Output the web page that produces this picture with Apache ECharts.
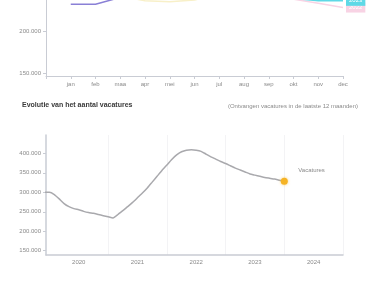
<!DOCTYPE html>
<html>
<head>
<meta charset="utf-8">
<script src="https://cdn.jsdelivr.net/npm/echarts@6/dist/echarts.min.js"></script>
<style>
  html, body { margin: 0; padding: 0; background: #fff; }
  #chart { width: 375px; height: 298px; }
</style>
</head>
<body>
<div id="chart"></div>
<script>
var monthLabels = ['jan', 'feb', 'maa', 'apr', 'mei', 'jun', 'jul', 'aug', 'sep', 'okt', 'nov', 'dec'];

// top chart: only the bottom part of it is visible
var purpleYear = [232000, 232000, 240000, 262000, 281000, 290000, 296000, 300000, 305000, 310000, 312000, 315000];
var yellowYear = [262000, 252000, 242000, 236000, 235000, 237000, 244000, 256000, 266000, 272000, 278000, 282000];
var pinkYear = [300000, 296000, 290000, 282000, 272000, 264000, 256000, 249000, 243000, 238000, 233000, 228000];
var cyanYear = [320000, 312000, 300000, 290000, 280000, 268000, 258000, 250000, 244000, 239000, 236000, 236000];
var topTicks = [150000, 200000];

// bottom chart: monthly values, rolling 12 months
var months = [
  '2019-12', '2020-01', '2020-02', '2020-03', '2020-04', '2020-05', '2020-06', '2020-07', '2020-08', '2020-09', '2020-10', '2020-11', '2020-12',
  '2021-01', '2021-02', '2021-03', '2021-04', '2021-05', '2021-06', '2021-07', '2021-08', '2021-09', '2021-10', '2021-11', '2021-12',
  '2022-01', '2022-02', '2022-03', '2022-04', '2022-05', '2022-06', '2022-07', '2022-08', '2022-09', '2022-10', '2022-11', '2022-12',
  '2023-01', '2023-02', '2023-03', '2023-04', '2023-05', '2023-06', '2023-07', '2023-08', '2023-09', '2023-10', '2023-11', '2023-12',
  '2024-01'
];
var vacatures = [
  300000, 300000, 294000, 283000, 271000, 263000, 258000, 255000, 251000, 248000, 246000, 243000, 240000,
  237000, 234000, 243000, 253000, 263000, 274000, 286000, 298000, 311000, 326000, 341000, 356000,
  370000, 384000, 396000, 404000, 408000, 409000, 408000, 405000, 398000, 391000, 385000, 379000,
  374000, 368000, 362000, 357000, 352000, 347000, 344000, 341000, 338000, 336000, 334000, 331000,
  328000
];
var years = ['2020', '2021', '2022', '2023', '2024'];
var bottomTicks = [150000, 200000, 250000, 300000, 350000, 400000];

function monthIndex(s) {
  var p = s.split('-');
  return (parseInt(p[0]) - 2020) * 12 + parseInt(p[1]) - 1;
}

function fmt(v) {
  return String(v).replace(/\B(?=(\d{3})+(?!\d))/g, '.');
}

var yearStarts = years.map(function(y) { return monthIndex(y + '-01') + 12; });
var yearMids = years.map(function(y) { return monthIndex(y + '-07'); });

var axisGray = '#c9ccd4';
var labelGray = '#8a8a8a';
var font = 'Liberation Sans, Arial, sans-serif';

function yearLine(name, data, color, endLabel) {
  var s = {
    name: name,
    type: 'line',
    xAxisIndex: 0,
    yAxisIndex: 0,
    data: data.map(function(v, i) { return [i, v]; }),
    showSymbol: false,
    lineStyle: { color: color, width: 1.5 },
    clip: true,
    silent: true
  };
  if (endLabel) {
    s.endLabel = {
      show: true,
      formatter: name,
      fontSize: 6,
      color: '#fff',
      backgroundColor: color,
      padding: [2, 3],
      offset: [-5, 0],
      fontFamily: font
    };
  }
  return s;
}

var chart = echarts.init(document.getElementById('chart'), null, { renderer: 'canvas' });

var lastIdx = vacatures.length - 1;

chart.setOption({
  animation: false,
  backgroundColor: '#fff',
  textStyle: { fontFamily: font },
  title: [
    {
      text: 'Evolutie van het aantal vacatures',
      left: 17,
      top: 97,
      textStyle: { fontSize: 7, fontWeight: 'bold', color: '#3a3a3a', fontFamily: font }
    },
    {
      text: '(Ontvangen vacatures in de laatste 12 maanden)',
      right: 12,
      top: 98,
      textStyle: { fontSize: 6, fontWeight: 'normal', color: '#8a8a8a', fontFamily: font }
    }
  ],
  grid: [
    { left: 46, right: 32, top: 0, bottom: 222 },
    { left: 46, right: 32, top: 135, bottom: 43 }
  ],
  xAxis: [
    {
      gridIndex: 0,
      type: 'value',
      min: -1,
      max: 11,
      interval: 1,
      axisLine: { show: true, onZero: false, lineStyle: { color: axisGray, width: 1 } },
      axisTick: { show: true, length: 3, lineStyle: { color: axisGray } },
      splitLine: { show: false },
      axisLabel: {
        fontSize: 6,
        color: labelGray,
        margin: 5,
        formatter: function(v) { return v >= 0 ? monthLabels[v] : ''; }
      }
    },
    {
      gridIndex: 1,
      type: 'value',
      min: -0.7,
      max: 60,
      axisLine: { show: true, onZero: false, lineStyle: { color: axisGray, width: 1.5 } },
      axisTick: { show: false, customValues: yearStarts },
      splitLine: { show: true, lineStyle: { color: '#f3f3f5', width: 1 } },
      axisLabel: {
        fontSize: 6,
        color: labelGray,
        margin: 4,
        customValues: yearMids,
        formatter: function(v) { return String(2020 + Math.floor(v / 12)); }
      }
    }
  ],
  yAxis: [
    {
      gridIndex: 0,
      type: 'value',
      min: 146400,
      max: 237000,
      axisLine: { show: true, onZero: false, lineStyle: { color: axisGray, width: 1 } },
      axisTick: { show: true, length: 3, customValues: topTicks, lineStyle: { color: axisGray } },
      splitLine: { show: false },
      axisLabel: {
        fontSize: 6,
        color: labelGray,
        margin: 5,
        customValues: topTicks,
        formatter: fmt
      }
    },
    {
      gridIndex: 1,
      type: 'value',
      min: 139000,
      max: 447000,
      axisLine: { show: true, onZero: false, lineStyle: { color: axisGray, width: 1.5 } },
      axisTick: { show: true, length: 3, customValues: bottomTicks, lineStyle: { color: axisGray } },
      splitLine: { show: false },
      axisLabel: {
        fontSize: 6,
        color: labelGray,
        margin: 5,
        customValues: bottomTicks,
        formatter: fmt
      }
    }
  ],
  series: [
    yearLine('2021', yellowYear, '#f8f0c8', false),
    yearLine('2022', pinkYear, '#f8d3e4', true),
    yearLine('2023', cyanYear, '#5fd9e6', true),
    yearLine('2020', purpleYear, '#8a80d6', false),
    {
      name: 'Vacatures',
      type: 'line',
      xAxisIndex: 1,
      yAxisIndex: 1,
      data: months.map(function(m, i) { return [monthIndex(m), vacatures[i]]; }),
      showSymbol: true,
      symbol: 'circle',
      symbolSize: function(v, p) { return p.dataIndex === lastIdx ? 7 : 0; },
      itemStyle: { color: '#f5b325', shadowBlur: 3, shadowColor: 'rgba(245,179,37,0.6)' },
      lineStyle: { color: '#a9a9ad', width: 1.5 },
      smooth: 0.15,
      clip: true,
      endLabel: {
        show: true,
        formatter: 'Vacatures',
        fontSize: 6,
        color: '#8a8a8a',
        offset: [6, -11],
        fontFamily: font
      }
    }
  ]
});
</script>
</body>
</html>
